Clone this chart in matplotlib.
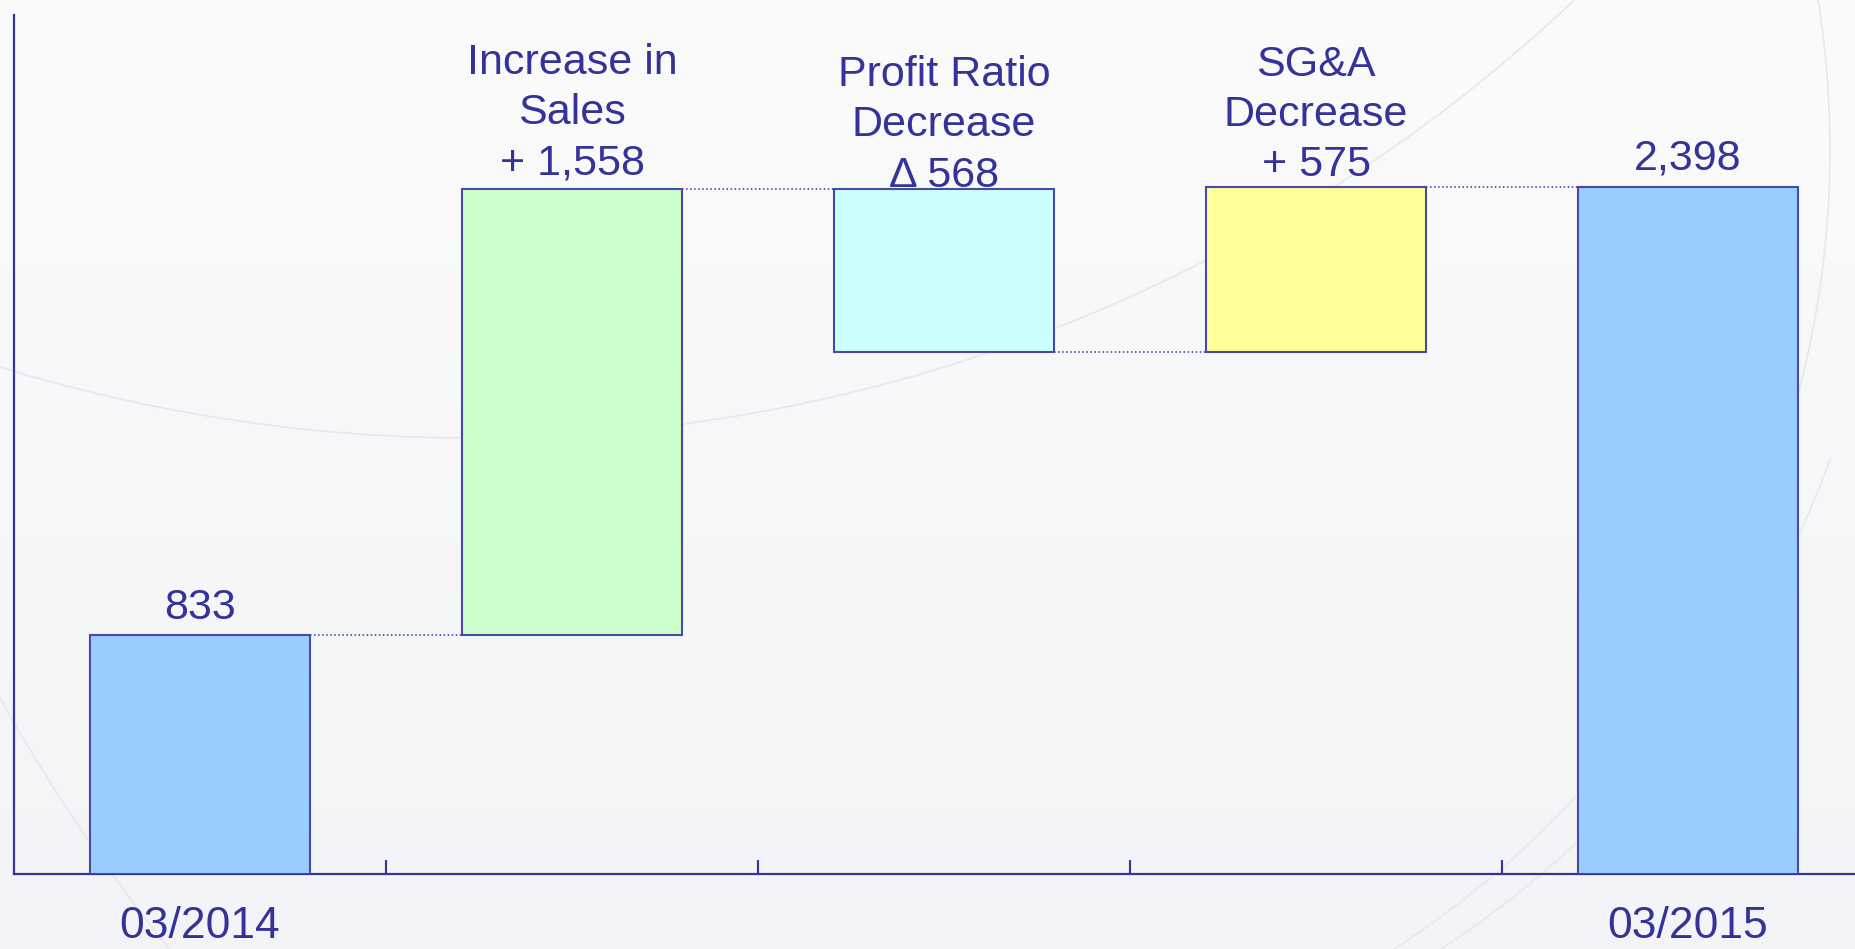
import numpy as np
import matplotlib.pyplot as plt
from matplotlib.patches import Arc

# datos del grafico puente (waterfall)
inicio = 833
variaciones = [1558, -568, 575]
final = 2398
etiquetas_eje = ['03/2014', '', '', '', '03/2015']
etiquetas_barras = ['833', 'Increase in\nSales\n+ 1,558', 'Profit Ratio\nDecrease\n\u0394 568',
                    'SG&A\nDecrease\n+ 575', '2,398']
colores = ['#99ccff', '#ccffcc', '#ccffff', '#ffff99', '#99ccff']
desfase_etiquetas = [12, 11, 2, 8, 13]  # puntos sobre la barra

azul = '#333399'
plt.rcParams['font.family'] = ['Liberation Sans', 'DejaVu Sans']

# calcular base y altura de cada barra
bases = [0]
alturas = [inicio]
niveles = [inicio]
nivel = inicio
for v in variaciones:
    if v > 0:
        bases.append(nivel)
        alturas.append(v)
    else:
        bases.append(nivel + v)
        alturas.append(-v)
    nivel = nivel + v
    niveles.append(nivel)
bases.append(0)
alturas.append(final)

fig = plt.figure(figsize=(18.56, 9.49), dpi=100)

# fondo con degradado y arcos suaves
fondo = fig.add_axes([0, 0, 1, 1], zorder=-1)
fondo.set_xlim(0, 1856)
fondo.set_ylim(949, 0)
fondo.axis('off')
grad = np.linspace(0, 1, 256).reshape(-1, 1)
c_arriba = np.array([251, 251, 251]) / 255
c_abajo = np.array([243, 244, 247]) / 255
img = c_arriba + grad[:, :, None] * (c_abajo - c_arriba)
fondo.imshow(img, extent=[0, 1856, 949, 0], aspect='auto')
for cx, cy, r, t1, t2 in [(472, -1168, 1606, 0, 180), (1600, -200, 1835, 90, 180),
                          (880, 150, 950, -20, 90), (900, 120, 990, 20, 90)]:
    fondo.add_patch(Arc((cx, cy), 2 * r, 2 * r, theta1=t1, theta2=t2,
                        color='#e6e8ee', lw=1.2))

ax = fig.add_axes([14 / 1856, 75 / 949, 1860 / 1856, 859 / 949])
ax.set_facecolor('none')

x = np.arange(len(alturas))
ancho = 0.59
ax.bar(x, alturas, bottom=bases, width=ancho, color=colores,
       edgecolor='#4a4aa6', linewidth=1.5, zorder=3)

# lineas punteadas de conexion
for i in range(len(niveles)):
    ax.plot([i + ancho / 2, i + 1 - ancho / 2], [niveles[i], niveles[i]],
            linestyle=':', color=azul, linewidth=1.1, zorder=2)

# etiquetas encima de cada barra
for i in range(len(alturas)):
    ax.annotate(etiquetas_barras[i], (x[i], bases[i] + alturas[i]),
                xytext=(0, desfase_etiquetas[i]), textcoords='offset points',
                ha='center', va='baseline', fontsize=31, color=azul,
                linespacing=1.33)

ax.set_xlim(-0.5, 4.5)
ax.set_ylim(0, 3000)
ax.set_yticks([])
ax.set_xticks([0.5, 1.5, 2.5, 3.5])
ax.set_xticklabels([])
ax.tick_params(axis='x', which='major', direction='in', length=10, width=1.5, color=azul)
ax.set_xticks(x, minor=True)
ax.set_xticklabels(etiquetas_eje, minor=True)
ax.tick_params(axis='x', which='minor', length=0, pad=23, labelsize=32, labelcolor=azul)

for lado in ['top', 'right']:
    ax.spines[lado].set_visible(False)
for lado in ['left', 'bottom']:
    ax.spines[lado].set_color(azul)
    ax.spines[lado].set_linewidth(1.6)

fig.savefig('out.png', dpi=100)
